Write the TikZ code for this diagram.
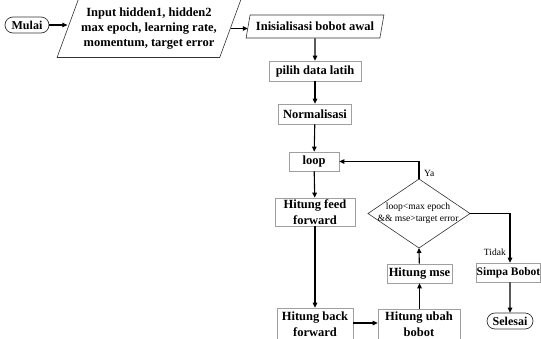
\documentclass[tikz,border=0pt]{standalone}
\usepackage{fontspec}
\setmainfont{Liberation Serif}
\usetikzlibrary{arrows.meta,shapes.geometric,shapes.misc}
\begin{document}
\begin{tikzpicture}[x=1pt,y=-1pt,
  box/.style={draw=gray!75,line width=0.7pt,rectangle,inner sep=0pt,align=center,
    font=\fontsize{12.5}{15.5}\selectfont\bfseries},
  term/.style={draw=black!80,line width=0.7pt,rounded rectangle,inner sep=0pt,
    font=\fontsize{12}{15}\selectfont\bfseries},
  io/.style={draw=black!80,line width=0.6pt,trapezium,trapezium stretches=true,inner sep=0pt,align=center,
    font=\fontsize{12.5}{15}\selectfont\bfseries},
  dectext/.style={inner sep=0pt,align=center,font=\fontsize{9.6}{12}\selectfont},
  decline/.style={draw=black!80,line width=0.6pt},
  lbl/.style={font=\fontsize{9.5}{11}\selectfont,inner sep=0pt},
  arr/.style={line width=1.1pt,-{Triangle[length=5pt,width=4.5pt]}},
  ln/.style={line width=1.1pt}]
\useasboundingbox (0,0) rectangle (541,338);
\clip (0,0) rectangle (541,338);
\fill[white] (0,0) rectangle (541,338);

\node[term,minimum width=44,minimum height=16] (mulai) at (27,25) {Mulai};
\node[io,trapezium left angle=63.8,trapezium right angle=116.2,minimum width=184,minimum height=58] (inp) at (149,28.5)
  {Input hidden1, hidden2\\max epoch, learning rate,\\momentum, target error};
\node[io,trapezium left angle=67.5,trapezium right angle=112.5,minimum width=138,minimum height=23] (ini) at (315,26.5)
  {Inisialisasi bobot awal};
\node[box,minimum width=92,minimum height=20] (pilih) at (315,71) {pilih data latih};
\node[box,minimum width=73,minimum height=20] (norm) at (315,114) {Normalisasi};
\node[box,minimum width=50,minimum height=19] (loop) at (314,161.5) {loop};
\node[box,minimum width=80,minimum height=28] (ff) at (315,212) {Hitung feed\\forward};
\node[box,minimum width=76,minimum height=32] (back) at (315,324) {Hitung back\\forward};
\node[box,minimum width=82,minimum height=30] (ubah) at (419,324) {Hitung ubah\\bobot};
\node[box,minimum width=65,minimum height=19] (mse) at (419.5,273.5) {Hitung mse};

% decision diamond
\coordinate (dtop) at (419,179);
\coordinate (dbot) at (419,248);
\coordinate (dleft) at (368,213.5);
\coordinate (dright) at (470,213.5);
\draw[decline] (dtop) -- (dright) -- (dbot) -- (dleft) -- cycle;
\node[dectext] (dec) at (418,213) {loop<max epoch\\\&\& mse>target error};

\node[box,minimum width=63,minimum height=19,font=\fontsize{11.5}{13}\selectfont\bfseries] (simpa) at (508.5,272.5) {Simpa Bobot};
\node[term,minimum width=46,minimum height=16] (sel) at (510,321) {Selesai};

\draw[arr] (mulai.east) -- (mulai.east -| inp.west);
\draw[arr] (inp.east) -- (inp.east -| ini.west);
\draw[arr] (ini) -- (pilih);
\draw[arr] (pilih) -- (norm);
\draw[arr] (norm) -- (loop);
\draw[arr] (loop) -- (ff);
\draw[arr] (ff) -- (back);
\draw[arr] (back.east |- 0,323) -- (ubah.west |- 0,323);
\draw[arr] (ubah.north -| mse) -- (mse);
\draw[arr] (mse) -- (dbot);
\draw[arr] (dtop) |- (loop.east);
\draw[arr] (dright) -| (simpa.north -| sel.north);
\draw[arr] (simpa.south -| sel.north) -- (sel);

\node[lbl,anchor=west] (ya) at (424,173) {Ya};
\node[lbl,anchor=east] (tidak) at (506,252) {Tidak};
\end{tikzpicture}
\end{document}
